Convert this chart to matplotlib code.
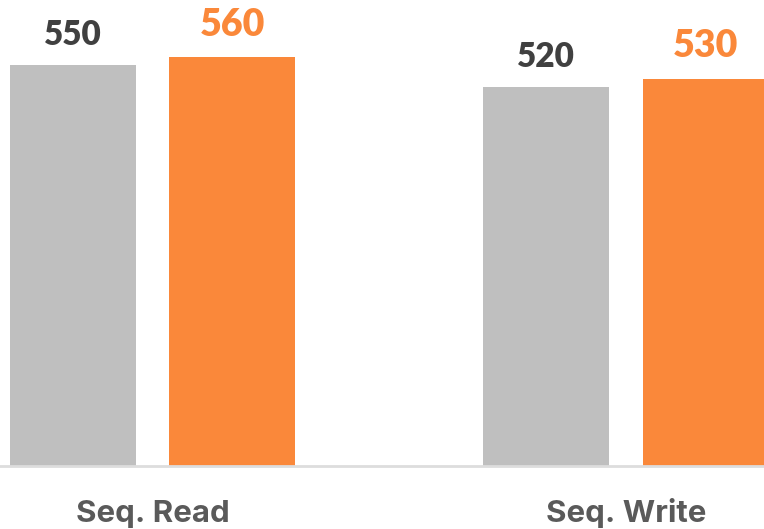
import matplotlib
matplotlib.use("Agg")
import matplotlib.pyplot as plt
import numpy as np

categories = ["Seq. Read", "Seq. Write"]
gray_values = [550, 520]
orange_values = [560, 530]

GRAY = "#bfbfbf"
ORANGE = "#fa883a"
plt.rcParams["font.family"] = ["Lato", "DejaVu Sans"]

fig = plt.figure(figsize=(7.64, 5.29), dpi=100)
ax = fig.add_axes([0, 63 / 529, 1, 466 / 529])

x = np.arange(len(categories))
width = 0.266
offset = 0.1684
gray_bars = ax.bar(x - offset, gray_values, width, color=GRAY)
orange_bars = ax.bar(x + offset, orange_values, width, color=ORANGE)

ax.set_xlim(-0.322, 1.2914)
ax.set_ylim(0, 638.8)

for bar, value in zip(gray_bars, gray_values):
    ax.annotate(str(value), (bar.get_x() + bar.get_width() / 2, value),
                xytext=(0, 14.4), textcoords="offset points", ha="center",
                va="baseline", fontsize=24, fontweight="heavy", color="#404040")
for bar, value in zip(orange_bars, orange_values):
    ax.annotate(str(value), (bar.get_x() + bar.get_width() / 2, value),
                xytext=(0, 15.8), textcoords="offset points", ha="center",
                va="baseline", fontsize=27, fontweight="heavy", color=ORANGE)

for i, label in enumerate(categories):
    ax.annotate(label, (x[i], 0), xycoords=("data", "axes fraction"),
                xytext=(0, -40.3), textcoords="offset points", ha="center",
                va="baseline", fontsize=22.5, fontweight="bold", color="#5a5a5a",
                family=["Inter", "DejaVu Sans"], annotation_clip=False)

ax.axhline(0, color="#dddddd", linewidth=2, clip_on=False)
for side in ["top", "right", "left", "bottom"]:
    ax.spines[side].set_visible(False)
ax.set_xticks([])
ax.set_yticks([])

fig.savefig("out.png", dpi=100)
